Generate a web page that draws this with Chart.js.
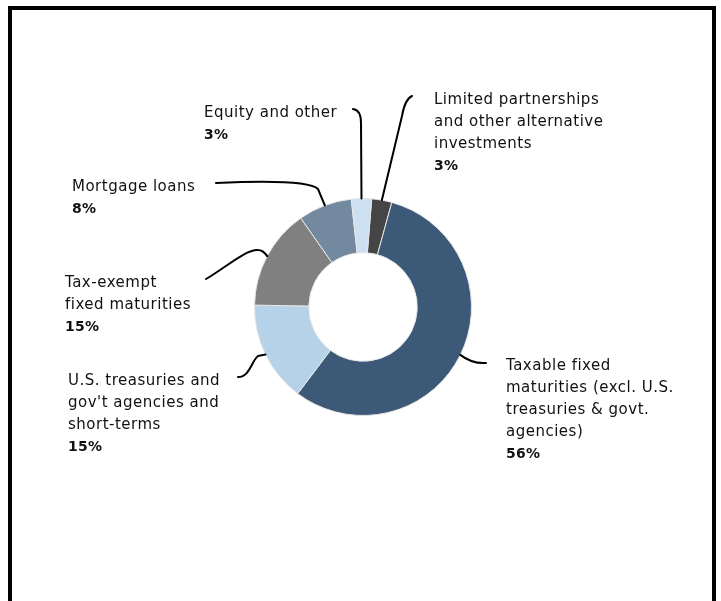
<!DOCTYPE html>
<html>
<head>
<meta charset="utf-8">
<script src="https://cdn.jsdelivr.net/npm/chart.js@4/dist/chart.umd.min.js"></script>
<style>
  html, body { margin: 0; padding: 0; background: #ffffff; overflow: hidden; }
  #wrap { position: relative; width: 721px; height: 601px; }
  #frame { position: absolute; left: 8px; top: 6px; width: 700px; height: 700px; border: 4px solid #000; box-sizing: content-box; }
  canvas { position: absolute; left: 0; top: 0; }
</style>
</head>
<body>
<div id="wrap">
  <div id="frame"></div>
  <canvas id="c" width="721" height="601"></canvas>
</div>
<script>
// ---- Data ----
const categories = [
  "Limited partnerships and other alternative investments",
  "Taxable fixed maturities (excl. U.S. treasuries & govt. agencies)",
  "U.S. treasuries and gov't agencies and short-terms",
  "Tax-exempt fixed maturities",
  "Mortgage loans",
  "Equity and other"
];
const labelLines = [
  ["Limited partnerships", "and other alternative", "investments"],
  ["Taxable fixed", "maturities (excl. U.S.", "treasuries & govt.", "agencies)"],
  ["U.S. treasuries and", "gov't agencies and", "short-terms"],
  ["Tax-exempt", "fixed maturities"],
  ["Mortgage loans"],
  ["Equity and other"]
];
const values = [3, 56, 15, 15, 8, 3];
const colors = ["#454545", "#3c5a78", "#b6d2e9", "#808080", "#72899f", "#cde0f1"];

// ---- Layout (label text positions and leader routes, pixels) ----
const labelPos = [
  { x: 434, y: 100 },
  { x: 506, y: 366 },
  { x: 68,  y: 381 },
  { x: 65,  y: 283 },
  { x: 72,  y: 187 },
  { x: 204, y: 113 }
];
const leaders = [
  (ctx, ax, ay) => { ctx.moveTo(412, 96); ctx.quadraticCurveTo(405, 99, 402, 116); ctx.lineTo(ax, ay); },
  (ctx, ax, ay) => { ctx.moveTo(ax, ay); ctx.quadraticCurveTo(472, 364, 486, 363); },
  (ctx, ax, ay) => { ctx.moveTo(238, 377); ctx.bezierCurveTo(250, 377, 252, 360, 258, 356); ctx.lineTo(ax, ay); },
  (ctx, ax, ay) => { ctx.moveTo(206, 279); ctx.bezierCurveTo(225, 268, 246, 249, 258, 250); ctx.quadraticCurveTo(263, 250, ax, ay); },
  (ctx, ax, ay) => { ctx.moveTo(216, 183); ctx.bezierCurveTo(260, 181, 310, 181, 318, 189); ctx.lineTo(ax, ay); },
  (ctx, ax, ay) => { ctx.moveTo(353, 109); ctx.quadraticCurveTo(361, 110, 361, 123); ctx.lineTo(ax, ay); }
];

const FONT = '15px "DejaVu Sans", sans-serif';
const FONT_PCT = 'bold 14px "DejaVu Sans", sans-serif';
const LINE_H = 22;

const labelPlugin = {
  id: 'calloutLabels',
  afterDatasetsDraw(chart) {
    const ctx = chart.ctx;
    const meta = chart.getDatasetMeta(0);
    ctx.save();
    meta.data.forEach((arc, i) => {
      const p = arc.getProps(['x', 'y', 'startAngle', 'endAngle', 'outerRadius'], true);
      const mid = (p.startAngle + p.endAngle) / 2;
      const ax = p.x + Math.cos(mid) * p.outerRadius;
      const ay = p.y + Math.sin(mid) * p.outerRadius;
      ctx.beginPath();
      ctx.strokeStyle = '#000';
      ctx.lineWidth = 2;
      ctx.lineJoin = 'round';
      ctx.lineCap = 'round';
      leaders[i](ctx, ax, ay);
      ctx.stroke();

      ctx.fillStyle = '#111111';
      ctx.textAlign = 'left';
      ctx.textBaseline = 'middle';
      const lines = labelLines[i].concat([values[i] + '%']);
      lines.forEach((t, k) => {
        const last = k === lines.length - 1;
        ctx.font = last ? FONT_PCT : FONT;
        if ('letterSpacing' in ctx) ctx.letterSpacing = last ? '0.3px' : '0.5px';
        ctx.fillText(t, labelPos[i].x, labelPos[i].y + k * LINE_H);
      });
    });
    ctx.restore();
  }
};

new Chart(document.getElementById('c'), {
  type: 'doughnut',
  data: {
    labels: categories,
    datasets: [{
      data: values,
      backgroundColor: colors,
      borderColor: '#e6e6e6',
      borderWidth: 1,
      hoverOffset: 0
    }]
  },
  options: {
    responsive: false,
    animation: false,
    cutout: '50%',
    rotation: 4.6,
    layout: { padding: { left: 254, right: 249, top: 198, bottom: 185 } },
    plugins: { legend: { display: false }, tooltip: { enabled: false }, title: { display: false } }
  },
  plugins: [labelPlugin]
});
</script>
</body>
</html>
